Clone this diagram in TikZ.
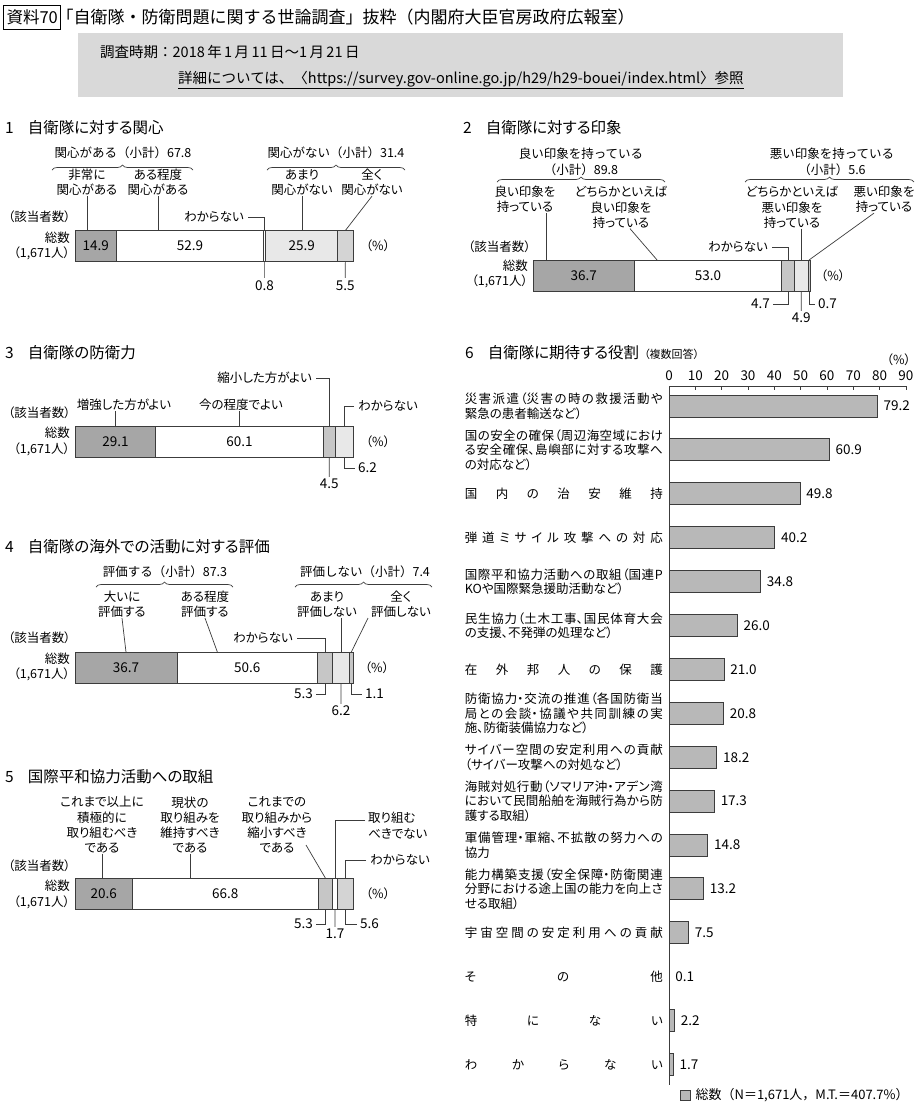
\documentclass[tikz,border=0pt]{standalone}
\usepackage{fontspec}
\setmainfont{Noto Sans CJK JP}[RawFeature=+palt]
\newfontfamily\fw{Noto Sans CJK JP}
\usetikzlibrary{positioning,decorations.pathreplacing}
\XeTeXlinebreaklocale "ja"
\XeTeXlinebreakskip=0pt plus 4pt
\definecolor{cdark}{HTML}{A6A6A6}
\definecolor{cmid}{HTML}{C6C6C6}
\definecolor{cml}{HTML}{D4D4D4}
\definecolor{clight}{HTML}{E8E8E8}
\definecolor{cbar}{HTML}{B8B8B8}
\definecolor{cbox}{HTML}{D9D9D9}
\definecolor{cline}{HTML}{3C3C3C}
\begin{document}
\begin{tikzpicture}[x=1pt,y=-1pt,
    lbl/.style={font=\fontsize{12.5}{15.3}\selectfont, align=center, inner sep=0pt},
    sub/.style={font=\fw\fontsize{12.5}{16}\selectfont, align=center, inner sep=0pt},
    num/.style={font=\fontsize{13.5}{15}\selectfont, inner sep=0pt},
    ttl/.style={font=\fontsize{15.5}{18}\selectfont, anchor=west, inner sep=0pt},
    seg/.style={draw=cline, line width=1pt, minimum height=31pt, inner sep=0pt, outer sep=0pt, font=\fontsize{13.5}{15}\selectfont},
    hbar/.style={draw=cline, fill=cbar, line width=1pt, minimum height=22pt, inner sep=0pt, outer sep=0pt},
    ldr/.style={draw=cline, line width=0.7pt},
    brc/.style={draw=cline, line width=0.7pt, decorate, decoration={brace, amplitude=5pt}},
    role/.style={font=\fontsize{12.5}{14.5}\selectfont, text width=198pt, align=justify, inner sep=0pt, anchor=east}]
        \fill[white] (0,0) rectangle (916,1104);
        \useasboundingbox (0,0) rectangle (916,1104);
        %% header
        \node[draw=black, line width=1pt, inner xsep=3pt, minimum height=24pt, anchor=west, font=\fw\fontsize{16.5}{20}\selectfont] (tag) at (3,17.5) {資料70};
        \node[anchor=west, inner sep=0pt, font=\fw\fontsize{17}{20}\selectfont] (hd) at ([xshift=-5pt]tag.east) {「自衛隊・防衛問題に関する世論調査」抜粋（内閣府大臣官房政府広報室）};
        \fill[cbox] (78,33) rectangle (843,97);
        \node[anchor=west, inner sep=0pt, font=\fw\fontsize{14.5}{16}\selectfont] (per) at (100,52) {調査時期：2018\,年\,1\,月\,11\,日〜1\,月\,21\,日};
        \node[anchor=west, inner sep=0pt, font=\fw\fontsize{14.5}{16}\selectfont] (url) at (178,80) {\underline{詳細については、〈https://survey.gov-online.go.jp/h29/h29-bouei/index.html〉参照}};
        %% 1 interest
        \node[ttl] (h1) at (5,128) {1\hspace{14pt}自衛隊に対する関心};
        \node[sub] (p1) at (123,153) {関心がある（小計）67.8};
        \draw[brc] (52,170) -- (193,170);
        \node[sub] (q1) at (336,153) {関心がない（小計）31.4};
        \draw[brc] (267,170) -- (405,170);
        \node[lbl] (l1a) at (87,182.5) {非常に\\関心がある};
        \node[lbl] (l1b) at (158,182.5) {ある程度\\関心がある};
        \node[lbl] (l1c) at (302,182.5) {あまり\\関心がない};
        \node[lbl] (l1d) at (372,182.5) {全く\\関心がない};
        \node[lbl, anchor=west] (n1) at (8,217) {（該当者数）};
        \node[lbl, align=right, anchor=east] (t1) at (70,246) {総数\\（1,671人）};
        \node[seg, fill=cdark, minimum width=41.4pt, anchor=west] (b1a) at (75,246) {14.9};
        \node[seg, fill=white, minimum width=147.1pt, right=0pt of b1a] (b1b) {52.9};
        \node[seg, fill=white, minimum width=2.2pt, right=0pt of b1b] (b1c) {};
        \node[seg, fill=clight, minimum width=72pt, right=0pt of b1c] (b1d) {25.9};
        \node[seg, fill=cml, minimum width=15.3pt, right=0pt of b1d] (b1e) {};
        \node[lbl] (pc1) at (378,246) {（\%）};
        \node[lbl, anchor=east] (w1) at (244,217) {わからない};
        \node[num] (v1c) at (264.6,286) {0.8};
        \node[num] (v1e) at (345.3,286) {5.5};
        \draw[ldr] (l1a.south) -- (l1a.south |- b1a.north);
        \draw[ldr] (l1b.south) -- (l1b.south |- b1b.north);
        \draw[ldr] (l1c.south) -- (l1c.south |- b1d.north);
        \draw[ldr] (l1d.south) -- (b1e.north);
        \draw[ldr, shorten <=4pt] (w1.east) -| (b1c.north);
        \draw[ldr, shorten >=3pt] (b1c.south) -- (v1c.north);
        \draw[ldr, shorten >=3pt] (b1e.south) -- (v1e.north);
        %% 2 impression
        \node[ttl] (h2) at (463,128) {2\hspace{14pt}自衛隊に対する印象};
        \node[sub] (p2) at (581,161.5) {良い印象を持っている\\（小計）89.8};
        \draw[brc] (497,182) -- (665,182);
        \node[sub] (q2) at (832,161.5) {悪い印象を持っている\\（小計）5.6};
        \draw[brc] (745,182) -- (914,182);
        \node[lbl] (l2a) at (525,199.5) {良い印象を\\持っている};
        \node[lbl] (l2b) at (621,207.5) {どちらかといえば\\良い印象を\\持っている};
        \node[lbl] (l2c) at (792,207.5) {どちらかといえば\\悪い印象を\\持っている};
        \node[lbl] (l2d) at (884,199.5) {悪い印象を\\持っている};
        \node[lbl, anchor=west] (n2) at (468,247) {（該当者数）};
        \node[lbl, align=right, anchor=east] (t2) at (528,274) {総数\\（1,671人）};
        \node[seg, fill=cdark, minimum width=101.7pt, anchor=west] (b2a) at (533,275.5) {36.7};
        \node[seg, fill=white, minimum width=146.8pt, right=0pt of b2a] (b2b) {53.0};
        \node[seg, fill=cmid, minimum width=13pt, right=0pt of b2b] (b2c) {};
        \node[seg, fill=clight, minimum width=13.6pt, right=0pt of b2c] (b2d) {};
        \node[seg, fill=cmid, minimum width=1.9pt, right=0pt of b2d] (b2e) {};
        \node[lbl] (pc2) at (833,275.5) {（\%）};
        \node[lbl, anchor=east] (w2) at (768,247) {わからない};
        \node[num, anchor=east] (v2c) at (770,304) {4.7};
        \node[num] (v2d) at (801.3,318) {4.9};
        \node[num, anchor=west] (v2e) at (818,304) {0.7};
        \coordinate (c2a) at ([xshift=21pt]l2a.south);
        \draw[ldr] (c2a) -- (c2a |- b2a.north);
        \draw[ldr] ([xshift=9pt]l2b.south) -- ([xshift=-51pt]b2b.north);
        \draw[ldr, shorten <=4pt] (w2.east) -| (b2c.north);
        \draw[ldr, shorten >=3pt] (b2c.south) |- (v2c.east);
        \draw[ldr] (l2c.south -| b2d.north) -- (b2d.north);
        \draw[ldr, shorten >=2pt] (b2d.south) -- (v2d.north);
        \draw[ldr] ([xshift=-10pt]l2d.south) -- (b2e.north);
        \draw[ldr, shorten >=3pt] (b2e.south) |- (v2e.west);
        %% 3 defence capability
        \node[ttl] (h3) at (5,353) {3\hspace{14pt}自衛隊の防衛力};
        \node[lbl, anchor=west] (n3) at (8,413) {（該当者数）};
        \node[lbl, align=right, anchor=east] (t3) at (70,441.5) {総数\\（1,671人）};
        \node[seg, fill=cdark, minimum width=80.9pt, anchor=west] (b3a) at (75,441.5) {29.1};
        \node[seg, fill=white, minimum width=167.1pt, right=0pt of b3a] (b3b) {60.1};
        \node[seg, fill=cmid, minimum width=12.5pt, right=0pt of b3b] (b3c) {};
        \node[seg, fill=clight, minimum width=17.5pt, right=0pt of b3c] (b3d) {};
        \node[lbl] (pc3) at (378,441.5) {（\%）};
        \node[lbl] (l3a) at (124,405) {増強した方がよい};
        \node[lbl] (l3b) at (241,405) {今の程度でよい};
        \node[lbl, anchor=east] (s3) at (312,378) {縮小した方がよい};
        \node[lbl, anchor=west] (w3) at (358,406) {わからない};
        \node[num] (v3c) at (329.2,484) {4.5};
        \node[num, anchor=west] (v3d) at (358,468) {6.2};
        \draw[ldr] (l3a.south -| b3a.north) -- (b3a.north);
        \draw[ldr] (l3b.south -| b3b.north) -- (b3b.north);
        \draw[ldr, shorten <=4pt] (s3.east) -| (b3c.north);
        \draw[ldr, shorten >=2pt] (b3c.south) -- (v3c.north);
        \draw[ldr, shorten <=4pt] (w3.west) -| (b3d.north);
        \draw[ldr, shorten >=3pt] (b3d.south) |- (v3d.west);
        %% 4 activities overseas
        \node[ttl] (h4) at (5,547) {4\hspace{14pt}自衛隊の海外での活動に対する評価};
        \node[sub] (p4) at (165,572) {評価する（小計）87.3};
        \draw[brc] (96,587) -- (233,587);
        \node[sub] (q4) at (365,572) {評価しない（小計）7.4};
        \draw[brc] (295,587) -- (432,587);
        \node[lbl] (l4a) at (122,604.5) {大いに\\評価する};
        \node[lbl] (l4b) at (205,604.5) {ある程度\\評価する};
        \node[lbl] (l4c) at (327,604.5) {あまり\\評価しない};
        \node[lbl] (l4d) at (401,604.5) {全く\\評価しない};
        \node[lbl, anchor=west] (n4) at (8,638) {（該当者数）};
        \node[lbl, align=right, anchor=east] (t4) at (70,667) {総数\\（1,671人）};
        \node[seg, fill=cdark, minimum width=102pt, anchor=west] (b4a) at (75,667.5) {36.7};
        \node[seg, fill=white, minimum width=140.7pt, right=0pt of b4a] (b4b) {50.6};
        \node[seg, fill=cmid, minimum width=14.7pt, right=0pt of b4b] (b4c) {};
        \node[seg, fill=clight, minimum width=17.2pt, right=0pt of b4c] (b4d) {};
        \node[seg, fill=cmid, minimum width=3.4pt, right=0pt of b4d] (b4e) {};
        \node[lbl] (pc4) at (377,667.5) {（\%）};
        \node[lbl, anchor=east] (w4) at (293,638) {わからない};
        \node[num, anchor=east] (v4c) at (313,694) {5.3};
        \node[num] (v4d) at (341,711) {6.2};
        \node[num, anchor=west] (v4e) at (365,694) {1.1};
        \draw[ldr] (l4a.south) -- (b4a.north);
        \draw[ldr] (l4b.south) -- ([xshift=-30pt]b4b.north);
        \draw[ldr, shorten <=4pt] (w4.east) -| (b4c.north);
        \draw[ldr, shorten >=3pt] (b4c.south) |- (v4c.east);
        \draw[ldr] (l4c.south -| b4d.north) -- (b4d.north);
        \draw[ldr, shorten >=2pt] (b4d.south) -- (v4d.north);
        \draw[ldr] ([xshift=-33pt]l4d.south) -- (b4e.north);
        \draw[ldr, shorten >=3pt] (b4e.south) |- (v4e.west);
        %% 5 international peace cooperation
        \node[ttl] (h5) at (5,777) {5\hspace{14pt}国際平和協力活動への取組};
        \node[lbl] (l5a) at (102,825) {これまで以上に\\積極的に\\取り組むべき\\である};
        \node[lbl] (l5b) at (190,825) {現状の\\取り組みを\\維持すべき\\である};
        \node[lbl] (l5c) at (277,825) {これまでの\\取り組みから\\縮小すべき\\である};
        \node[lbl, align=left, anchor=north west] (l5d) at (368,812) {取り組む\\べきでない};
        \node[lbl, anchor=west] (w5) at (370,860) {わからない};
        \node[lbl, anchor=west] (n5) at (8,866) {（該当者数）};
        \node[lbl, align=right, anchor=east] (t5) at (70,894.5) {総数\\（1,671人）};
        \node[seg, fill=cdark, minimum width=57.3pt, anchor=west] (b5a) at (75,893.5) {20.6};
        \node[seg, fill=white, minimum width=185.7pt, right=0pt of b5a] (b5b) {66.8};
        \node[seg, fill=cmid, minimum width=14.7pt, right=0pt of b5b] (b5c) {};
        \node[seg, fill=white, minimum width=4.7pt, right=0pt of b5c] (b5d) {};
        \node[seg, fill=cml, minimum width=15.6pt, right=0pt of b5d] (b5e) {};
        \node[lbl] (pc5) at (378,893.5) {（\%）};
        \node[num, anchor=east] (v5c) at (313,924) {5.3};
        \node[num] (v5d) at (335,934) {1.7};
        \node[num, anchor=west] (v5e) at (360,924) {5.6};
        \coordinate (c5c) at (306,845);
        \coordinate (c5d) at (365,820);
        \draw[ldr] (l5a.south) -- (l5a.south |- b5a.north);
        \draw[ldr] (l5b.south) -- (l5b.south |- b5b.north);
        \draw[ldr] (c5c) -- (b5c.north);
        \draw[ldr] (c5d) -| (b5d.north);
        \draw[ldr, shorten <=4pt] (w5.west) -| (b5e.north);
        \draw[ldr, shorten >=3pt] (b5c.south) |- (v5c.east);
        \draw[ldr, shorten >=2pt] (b5d.south) -- (v5d.north);
        \draw[ldr, shorten >=3pt] (b5e.south) |- (v5e.west);
        %% 6 expected roles
        \node[ttl] (h6) at (465,353) {6\hspace{14pt}自衛隊に期待する役割\hspace{5pt}{\fontsize{11}{13}\selectfont（複数回答）}};
        \node[lbl, anchor=east] (pc6) at (911,360) {（\%）};
        \draw[ldr] (669,386) -- (906,386);
        \draw[ldr] (669,386) -- (669,1085);
        \foreach \t in {0,10,...,90} {
            \draw[ldr] ({669+2.633*\t},386) -- ++(0,4);
            \node[num] at ({669+2.633*\t},376) {\t};
        }
        \foreach \v [count=\i from 0] in {79.2,60.9,49.8,40.2,34.8,26.0,21.0,20.8,18.2,17.3,14.8,13.2,7.5,0.1,2.2,1.7} {
            \node[hbar, minimum width={2.633*\v}, anchor=west] (r\i) at (669,{406+43.9*\i}) {};
            \node[num, anchor=west] (rv\i) at ([xshift=6pt]r\i.east) {\v};
        }
        \foreach \txt [count=\i from 0] in {
            {災害派遣（災害の時の救援活動や\linebreak 緊急の患者輸送など）},
            {国の安全の確保（周辺海空域におけ\linebreak る安全確保、島嶼部に対する攻撃へ\linebreak の対応など）},
            {国\hfill 内\hfill の\hfill 治\hfill 安\hfill 維\hfill 持},
            {弾\hfill 道\hfill ミ\hfill サ\hfill イ\hfill ル\hfill 攻\hfill 撃\hfill へ\hfill の\hfill 対\hfill 応},
            {国際平和協力活動への取組（国連P\linebreak KOや国際緊急援助活動など）},
            {民生協力（土木工事、国民体育大会\linebreak の支援、不発弾の処理など）},
            {在\hfill 外\hfill 邦\hfill 人\hfill の\hfill 保\hfill 護},
            {防衛協力・交流の推進（各国防衛当\linebreak 局との会談・協議や共同訓練の実\linebreak 施、防衛装備協力など）},
            {サイバー空間の安定利用への貢献\linebreak （サイバー攻撃への対処など）},
            {海賊対処行動（ソマリア沖・アデン湾\linebreak において民間船舶を海賊行為から防\linebreak 護する取組）},
            {軍備管理・軍縮、不拡散の努力への\linebreak 協力},
            {能力構築支援（安全保障・防衛関連\linebreak 分野における途上国の能力を向上さ\linebreak せる取組）},
            {宇\hfill 宙\hfill 空\hfill 間\hfill の\hfill 安\hfill 定\hfill 利\hfill 用\hfill へ\hfill の\hfill 貢\hfill 献},
            {そ\hfill の\hfill 他},
            {特\hfill に\hfill な\hfill い},
            {わ\hfill か\hfill ら\hfill な\hfill い}} {
            \node[role] (rl\i) at (663,{406+43.9*\i}) {\txt};
        }
        %% legend
        \node[draw=cline, fill=cbar, line width=0.8pt, minimum size=10pt, inner sep=0pt] (lg) at (685,1095) {};
        \node[sub, anchor=west, font=\fw\fontsize{13}{16}\selectfont] (lgt) at ([xshift=5pt]lg.east) {総数（N＝1,671人，M.T.＝407.7\%）};
    \end{tikzpicture}
\end{document}
